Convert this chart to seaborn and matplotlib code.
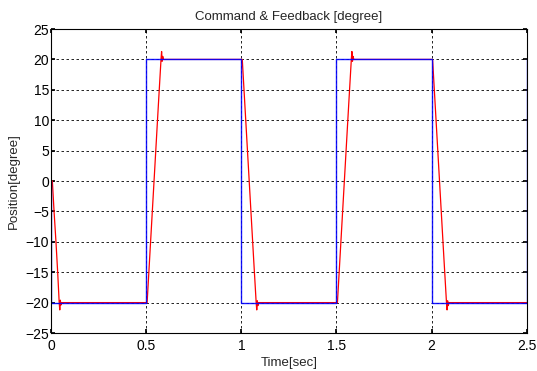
import matplotlib
matplotlib.use("Agg")
import matplotlib.pyplot as plt
import seaborn as sns

# command (square wave) breakpoints
cmd_time = [0, 0, 0.5, 0.5, 1.0, 1.0, 1.5, 1.5, 2.0, 2.0, 2.5, 2.5]
cmd_deg = [0, -20, -20, 20, 20, -20, -20, 20, 20, -20, -20, 20]

# feedback breakpoints
fb_time = [0, 0.007, 0.016, 0.026, 0.035, 0.043, 0.046, 0.049, 0.052, 0.056,
           0.5, 0.505, 0.525, 0.545, 0.565, 0.578, 0.581, 0.584, 0.587, 0.591,
           1.0, 1.005, 1.025, 1.045, 1.065, 1.078, 1.081, 1.084, 1.087, 1.091,
           1.5, 1.505, 1.525, 1.545, 1.565, 1.578, 1.581, 1.584, 1.587, 1.591,
           2.0, 2.005, 2.025, 2.045, 2.065, 2.078, 2.081, 2.084, 2.087, 2.091,
           2.5]
fb_deg = [0, 0, -5, -10, -15, -20, -21.2, -19.6, -20.4, -20,
          -20, -20, -9, 2, 13, 20, 21.3, 19.7, 20.5, 20,
          20, 20, 9, -2, -13, -20, -21.2, -19.7, -20.5, -20,
          -20, -20, -9, 2, 13, 20, 21.3, 19.7, 20.5, 20,
          20, 20, 9, -2, -13, -20, -21.2, -19.7, -20.5, -20,
          -20]

sns.set_theme(style="white")
plt.rcParams["font.family"] = ["Liberation Sans", "DejaVu Sans"]

fig = plt.figure(figsize=(5.37, 3.71), dpi=100)
ax = fig.add_axes([0.095, 0.1024, 0.886, 0.8194])

sns.lineplot(x=fb_time, y=fb_deg, estimator=None, sort=False, color="red", linewidth=0.9, ax=ax)
sns.lineplot(x=cmd_time, y=cmd_deg, estimator=None, sort=False, color="blue", linewidth=1.0, alpha=0.9, ax=ax)

ax.set_xlim(0, 2.5)
ax.set_ylim(-25, 25)
ax.set_xticks([0, 0.5, 1, 1.5, 2, 2.5])
ax.set_xticklabels(["0", "0.5", "1", "1.5", "2", "2.5"])
ax.set_yticks(range(-25, 26, 5))
ax.grid(True, color="black", linestyle=(0, (3, 3)), linewidth=0.6)
ax.tick_params(direction="in", length=3, labelsize=10, colors="black",
               bottom=True, left=True, top=True, right=True)
ax.tick_params(axis="x", pad=4)
ax.tick_params(axis="y", pad=1.5)
for s in ax.spines.values():
    s.set_color("black")
    s.set_linewidth(0.8)

ax.set_title("Command & Feedback [degree]", fontsize=9.5, pad=6.5)
ax.set_xlabel("Time[sec]", fontsize=9.5, labelpad=3)
ax.set_ylabel("Position[degree]", fontsize=9.5, labelpad=4)

fig.savefig("out.png", dpi=100, facecolor="white")
